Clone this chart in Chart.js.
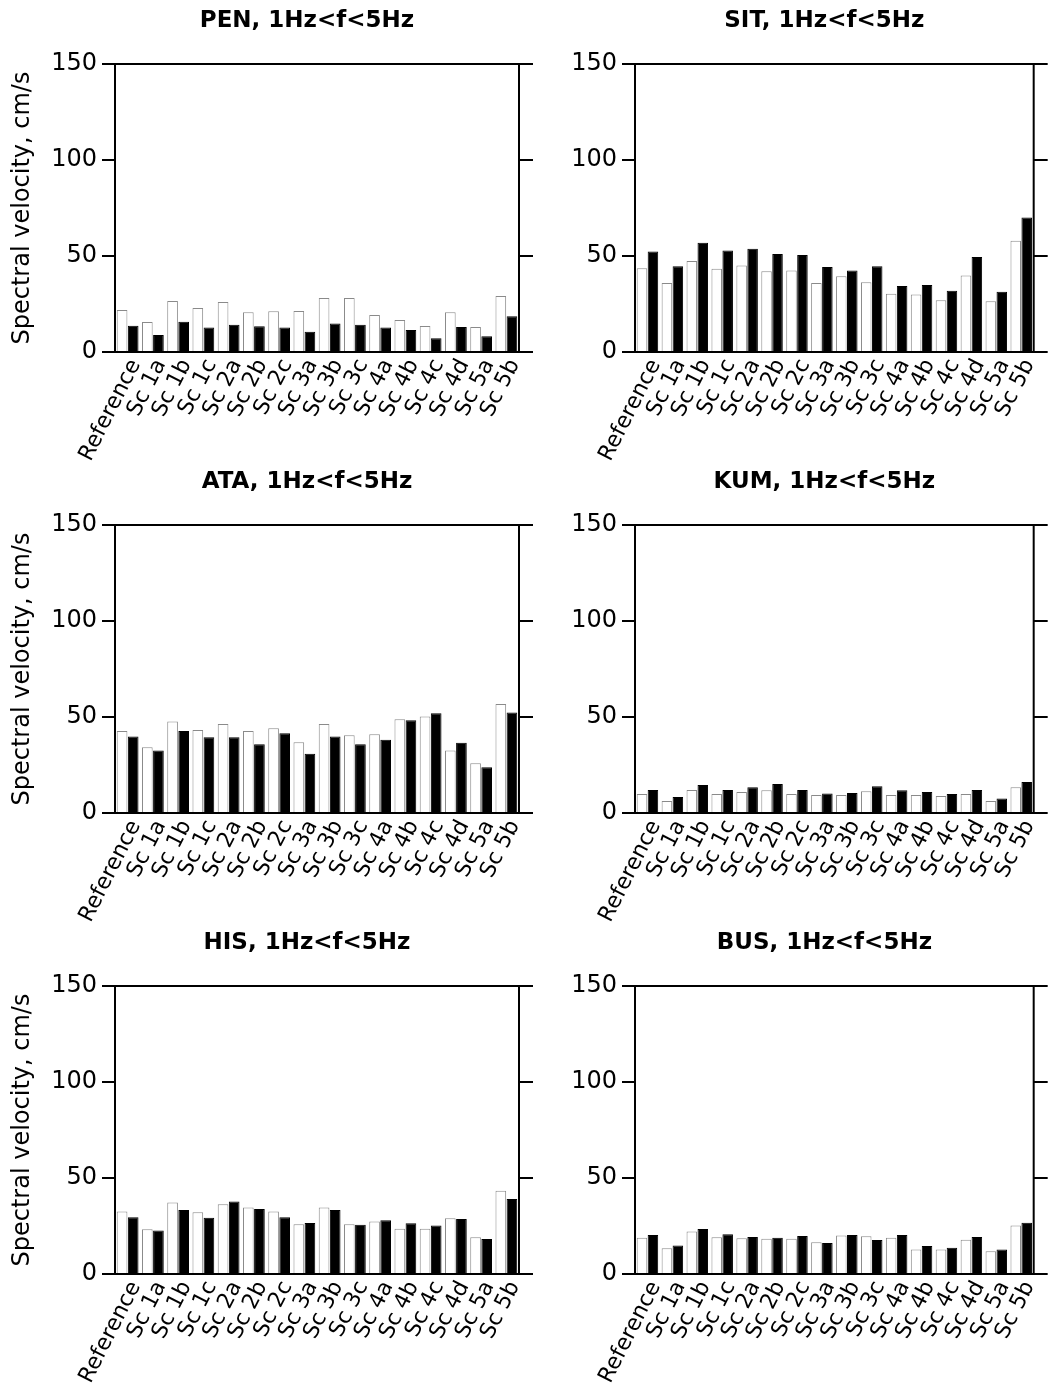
<!DOCTYPE html>
<html><head><meta charset="utf-8">
<script src="https://cdn.jsdelivr.net/npm/chart.js@4"></script>
<style>
html,body{margin:0;padding:0;background:#fff;}
#wrap{position:relative;width:1048px;height:1392px;overflow:hidden;background:#fff;}
#wrap canvas{position:absolute;}
</style></head><body><div id="wrap"></div>
<script>
const categories = ['Reference','Sc 1a','Sc 1b','Sc 1c','Sc 2a','Sc 2b','Sc 2c','Sc 3a','Sc 3b','Sc 3c','Sc 4a','Sc 4b','Sc 4c','Sc 4d','Sc 5a','Sc 5b'];
const band = '1Hz<f<5Hz';
const yTicks = [0, 50, 100, 150];

const penWhite = [21.9,15.6,26.6,22.9,26.0,20.7,21.2,21.4,28.1,28.1,19.3,16.7,13.5,20.7,13.0,29.2];
const penBlack = [13.7,8.9,15.8,12.7,14.2,13.4,12.7,10.6,14.9,14.2,12.8,11.5,7.1,13.0,8.2,18.6];
const sitWhite = [43.6,35.9,47.4,43.4,45.0,42.0,42.5,35.9,39.4,36.3,30.4,30.0,26.9,39.9,26.4,58.0];
const sitBlack = [52.4,44.6,56.9,52.8,53.8,51.0,50.5,44.3,42.4,44.6,34.4,34.9,31.9,49.5,31.4,70.0];
const ataWhite = [42.7,34.2,47.7,43.2,46.4,42.7,44.1,36.8,46.4,40.5,41.0,48.8,50.2,32.6,25.9,56.8];
const ataBlack = [39.8,32.6,42.7,39.4,39.4,35.8,41.5,30.9,39.8,35.8,38.2,48.3,51.9,36.6,23.8,52.3];
const kumWhite = [9.9,6.3,12.0,9.9,10.9,11.8,9.9,9.4,9.4,11.3,9.4,9.4,8.9,9.9,6.3,13.4];
const kumBlack = [12.0,8.3,14.6,12.0,13.4,15.1,12.0,10.2,10.4,13.9,11.8,10.9,9.9,12.0,7.6,16.1];
const hisWhite = [32.6,23.3,37.3,32.1,36.3,34.7,32.6,25.9,34.7,25.9,27.4,23.6,23.6,29.0,19.1,43.4];
const hisBlack = [29.5,22.6,33.3,29.3,37.8,33.9,29.5,26.6,33.3,25.7,28.0,26.4,25.3,28.6,18.2,39.1];
const busWhite = [18.9,13.4,22.2,19.1,18.6,18.4,18.4,16.5,20.0,19.6,18.9,12.8,12.8,17.9,11.8,25.2];
const busBlack = [20.3,14.9,23.4,20.7,19.3,18.9,19.8,16.1,20.3,17.7,20.3,14.6,13.7,19.3,12.8,26.7];

const panels = [
  {name:'PEN', white:penWhite, black:penBlack, col:0, row:0},
  {name:'SIT', white:sitWhite, black:sitBlack, col:1, row:0},
  {name:'ATA', white:ataWhite, black:ataBlack, col:0, row:1},
  {name:'KUM', white:kumWhite, black:kumBlack, col:1, row:1},
  {name:'HIS', white:hisWhite, black:hisBlack, col:0, row:2},
  {name:'BUS', white:busWhite, black:busBlack, col:1, row:2}
];

const FONT = "'DejaVu Sans', 'Liberation Sans', Arial, sans-serif";

const framePlugin = {
  id: 'frame',
  afterDatasetsDraw(chart) {
    const {ctx, chartArea: a, scales: {y}} = chart;
    ctx.save();
    ctx.strokeStyle = '#000';
    ctx.lineWidth = 2;
    ctx.strokeRect(a.left, a.top, a.right - a.left, a.bottom - a.top);
    ctx.beginPath();
    yTicks.forEach(v => {
      const py = y.getPixelForValue(v);
      ctx.moveTo(a.right, py);
      ctx.lineTo(a.right + 14, py);
    });
    ctx.stroke();
    ctx.restore();
  },
  afterDraw(chart) {
    const {ctx, chartArea: a} = chart;
    ctx.save();
    ctx.fillStyle = '#000';
    ctx.font = 'bold 23px ' + FONT;
    ctx.textAlign = 'center';
    ctx.textBaseline = 'middle';
    ctx.fillText(chart.options.plugins.panelTitle.text, (a.left + a.right) / 2 - 10, 21);
    ctx.restore();
  }
};

const wrap = document.getElementById('wrap');
panels.forEach(p => {
  const cv = document.createElement('canvas');
  const left = p.col === 0 ? 0 : 520;
  const width = p.col === 0 ? 545 : 528;
  const top = p.row * 461;
  const height = 470;
  cv.width = width; cv.height = height;
  cv.style.left = left + 'px'; cv.style.top = top + 'px';
  cv.style.width = width + 'px'; cv.style.height = height + 'px';
  wrap.appendChild(cv);
  new Chart(cv, {
    type: 'bar',
    data: {
      labels: categories,
      datasets: [
        {label: 'white', data: p.white, backgroundColor: '#ffffff', borderColor: '#8a8a8a', borderWidth: 1,
         categoryPercentage: 0.88, barPercentage: 0.96},
        {label: 'black', data: p.black, backgroundColor: '#000000', borderColor: '#000000', borderWidth: 1,
         categoryPercentage: 0.88, barPercentage: 0.96}
      ]
    },
    options: {
      responsive: false,
      animation: false,
      devicePixelRatio: 1,
      layout: {padding: {top: 64, right: p.col === 0 ? 26 : 8, left: 0, bottom: 0}},
      plugins: {
        legend: {display: false},
        tooltip: {enabled: false},
        title: {display: false},
        panelTitle: {text: p.name + ', ' + band}
      },
      scales: {
        x: {
          type: 'category',
          grid: {display: false, drawTicks: false, tickLength: 0},
          border: {display: false},
          ticks: {
            autoSkip: false, maxRotation: 63, minRotation: 63,
            color: '#000', padding: 3, labelOffset: 8,
            font: {family: FONT, size: 22}
          },
          afterFit(scale) { scale.height = 470 - 352; }
        },
        y: {
          min: 0, max: 150,
          afterBuildTicks(scale) { scale.ticks = yTicks.map(v => ({value: v})); },
          grid: {display: true, drawOnChartArea: false, drawTicks: true, tickLength: 13, color: '#000', lineWidth: 2},
          border: {display: false},
          ticks: {color: '#000', padding: 5, font: {family: FONT, size: 24}},
          title: {
            display: p.col === 0,
            text: 'Spectral velocity, cm/s',
            color: '#000',
            font: {family: FONT, size: 24},
            padding: {top: 8, bottom: 0}
          },
          afterFit(scale) { scale.width = 115; }
        }
      }
    },
    plugins: [framePlugin]
  });
});
</script>
</body></html>
